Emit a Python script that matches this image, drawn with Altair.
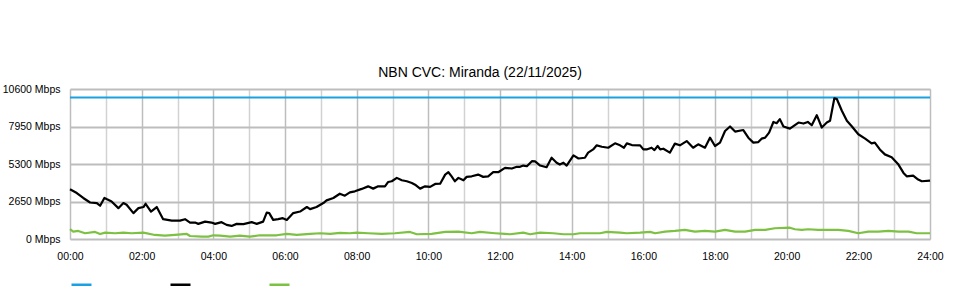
import altair as alt
import pandas as pd

title_text = "NBN CVC: Miranda (22/11/2025)"
series_names = ["Capacity", "Download", "Upload"]
series_colors = ["#1ba1e2", "#000000", "#7cc142"]

capacity_hours = [0, 24]
capacity_mbps = [10000, 10000]

download_hours = [
    0.00, 0.19, 0.37, 0.56, 0.75, 0.84, 0.96, 1.02, 1.16, 1.35, 1.49, 1.58, 1.77, 1.91,
    2.05, 2.11, 2.26, 2.42, 2.60, 2.84, 3.07, 3.21, 3.35, 3.49, 3.58, 3.77, 3.95, 4.05,
    4.23, 4.37, 4.51, 4.65, 4.84, 5.07, 5.21, 5.39, 5.49, 5.56, 5.67, 5.81, 5.94, 6.05,
    6.23, 6.42, 6.61, 6.70, 6.88, 7.07, 7.16, 7.35, 7.53, 7.67, 7.81, 7.95, 8.14, 8.32,
    8.46, 8.60, 8.79, 8.88, 8.98, 9.12, 9.26, 9.40, 9.54, 9.63, 9.77, 9.91, 10.05, 10.19,
    10.33, 10.47, 10.56, 10.65, 10.74, 10.84, 10.98, 11.07, 11.21, 11.39, 11.53, 11.67,
    11.81, 11.95, 12.14, 12.33, 12.47, 12.56, 12.65, 12.75, 12.89, 12.98, 13.12, 13.30,
    13.44, 13.58, 13.67, 13.77, 13.86, 14.05, 14.19, 14.37, 14.46, 14.60, 14.70, 14.84,
    15.02, 15.21, 15.35, 15.46, 15.54, 15.68, 15.91, 16.00, 16.09, 16.23, 16.31, 16.40,
    16.47, 16.56, 16.74, 16.88, 17.02, 17.21, 17.39, 17.53, 17.72, 17.86, 18.00, 18.14,
    18.28, 18.42, 18.56, 18.79, 18.93, 19.07, 19.21, 19.30, 19.40, 19.51, 19.63, 19.72,
    19.81, 19.91, 20.09, 20.33, 20.47, 20.59, 20.70, 20.84, 20.98, 21.12, 21.21, 21.33,
    21.40, 21.54, 21.68, 21.81, 22.00, 22.19, 22.37, 22.46, 22.60, 22.74, 22.93, 23.12,
    23.26, 23.35, 23.53, 23.67, 23.77, 24.00,
]
download_mbps = [
    3520, 3250, 2900, 2580, 2540, 2350, 2900, 2820, 2650, 2180, 2540, 2420, 1830, 2180,
    2260, 2490, 1940, 2260, 1400, 1300, 1300, 1400, 1160, 1160, 1070, 1230, 1160, 1070,
    1190, 1000, 925, 1070, 1050, 1190, 1070, 1230, 1870, 1830, 1350, 1400, 1470, 1350,
    1830, 1940, 2260, 2110, 2260, 2540, 2730, 2900, 3200, 3060, 3290, 3370, 3540, 3720,
    3560, 3720, 3720, 4030, 4080, 4320, 4150, 4080, 3960, 3840, 3560, 3720, 3680, 3890,
    3910, 4550, 4720, 4430, 4080, 4320, 4150, 4390, 4430, 4550, 4390, 4430,
    4720, 4720, 5030, 4980, 5100, 5100, 5190, 5140, 5500, 5480, 5190, 5070,
    5740, 5390, 5260, 5390, 5190, 5910, 5690, 5740, 6100, 6330, 6620, 6520,
    6450, 6760, 6620, 6450, 6760, 6640, 6620, 6330, 6330, 6450, 6280, 6570,
    6330, 6380, 6100, 6740, 6620, 6920, 6450, 6690, 6450, 7160, 6570, 6810,
    7630, 7950, 7590, 7700, 7160, 6810, 6850, 7090, 7160, 7520, 8270, 8180,
    8470, 7950, 7800, 8230, 8160, 8270, 8040, 8750, 7880, 8230, 8350, 9940,
    9890, 9060, 8350, 7990, 7400, 7090, 6760, 6810, 6330, 5980, 5780, 5260,
    4670, 4430, 4480, 4200, 4080, 4130,
]

upload_hours = [
    0.00, 0.09, 0.23, 0.42, 0.70, 0.84, 0.98, 1.26, 1.49, 1.72, 2.05, 2.37, 2.65, 2.93,
    3.26, 3.35, 3.68, 3.86, 4.00, 4.19, 4.47, 4.74, 5.02, 5.30, 5.77, 6.05, 6.33, 6.70,
    6.98, 7.26, 7.54, 7.81, 8.00, 8.32, 8.70, 9.07, 9.49, 9.68, 10.09, 10.47, 10.84,
    11.21, 11.44, 11.86, 12.14, 12.28, 12.65, 12.84, 13.12, 13.49, 13.77, 14.05, 14.23,
    14.79, 14.98, 15.35, 15.54, 15.91, 16.19, 16.33, 16.61, 16.88, 17.16, 17.44, 17.72,
    18.00, 18.28, 18.56, 18.84, 19.12, 19.40, 19.67, 20.09, 20.23, 20.42, 20.60, 20.88,
    21.16, 21.44, 21.72, 22.00, 22.28, 22.56, 22.84, 23.12, 23.40, 23.63, 24.00,
]
upload_mbps = [
    690, 520, 570, 405, 500, 356, 450, 405, 450, 405, 450, 285, 235, 285,
    356, 213, 164, 164, 263, 235, 164, 235, 164, 263, 263, 356, 285, 356,
    405, 356, 427, 405, 450, 405, 356, 405, 500, 334, 356, 500, 520,
    405, 500, 405, 356, 334, 450, 334, 450, 405, 334, 334, 405,
    405, 500, 450, 405, 450, 500, 405, 520, 570, 640, 520, 570,
    520, 640, 520, 520, 640, 640, 760, 800, 690, 640, 690, 640,
    640, 640, 570, 405, 520, 520, 570, 520, 520, 405, 405,
]

y_ticks = [0, 2650, 5300, 7950, 10600]
x_ticks = list(range(0, 25))

rows = []
for name, hrs, vals in [
    (series_names[0], capacity_hours, capacity_mbps),
    (series_names[1], download_hours, download_mbps),
    (series_names[2], upload_hours, upload_mbps),
]:
    for h, v in zip(hrs, vals):
        rows.append({"series": name, "hour": h, "mbps": v})
df = pd.DataFrame(rows)

FONT = "Liberation Sans"

chart = (
    alt.Chart(df)
    .mark_line(strokeWidth=2.2, strokeJoin="round")
    .encode(
        x=alt.X(
            "hour:Q",
            scale=alt.Scale(domain=[0, 24], nice=False, zero=False),
            axis=alt.Axis(
                values=x_ticks,
                labelExpr="datum.value % 2 == 0 ? ((datum.value < 10 ? '0' : '') + datum.value + ':00') : ''",
                title=None,
                grid=True,
                gridColor={"condition": {"test": "datum.value % 2 == 0", "value": "#bdbdbd"}, "value": "#d2d2d2"},
                gridWidth=1.5,
                domain=False,
                ticks=False,
                labelFont=FONT,
                labelFontSize=10.5,
                labelColor="#000000",
                labelPadding=12,
                labelOverlap=False,
                labelFlush=False,
            ),
        ),
        y=alt.Y(
            "mbps:Q",
            scale=alt.Scale(domain=[0, 10600], nice=False),
            axis=alt.Axis(
                values=y_ticks,
                labelExpr="datum.value + ' Mbps'",
                title=None,
                grid=True,
                gridColor="#bdbdbd",
                gridWidth=2,
                domain=False,
                ticks=False,
                labelFont=FONT,
                labelFontSize=10.5,
                labelColor="#000000",
                labelPadding=10,
            ),
        ),
        color=alt.Color(
            "series:N",
            scale=alt.Scale(domain=series_names, range=series_colors),
            legend=alt.Legend(
                title=None,
                orient="none",
                legendX=0,
                legendY=184,
                direction="horizontal",
                symbolType="stroke",
                symbolStrokeWidth=2.5,
                symbolSize=400,
                labelExpr="''",
                labelOffset=0,
                columnPadding=68,
                labelFontSize=1,
            ),
        ),
        order=alt.Order("hour:Q"),
    )
    .properties(
        width=860,
        height=150,
        title=alt.TitleParams(
            title_text,
            font=FONT,
            fontSize=14,
            fontWeight="normal",
            color="#000000",
            anchor="middle",
            dx=-20,
            offset=4,
        ),
        autosize=alt.AutoSizeParams(type="none"),
        padding={"left": 70, "top": 89, "right": 30, "bottom": 61},
    )
    .configure_view(stroke=None)
    .configure(background="#ffffff")
)

chart.save("out.html", embed_options={"renderer": "svg", "actions": False})
